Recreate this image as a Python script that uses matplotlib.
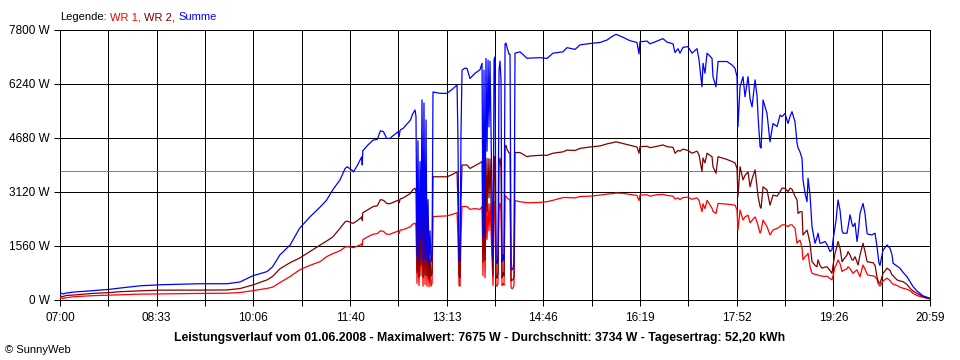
import matplotlib
matplotlib.use("Agg")
import matplotlib.pyplot as plt
import numpy as np

plt.rcParams['font.family'] = ['Liberation Sans', 'DejaVu Sans']

# minutes after 07:00
time_min = [
    0, 2.9, 5.8, 13.5, 31.8, 48.2, 57.9, 77.2, 96.4, 135.0,
    161.0, 173.5, 186.0, 199.6, 205.0, 212.0, 222.0, 231.0, 241.0, 251.0,
    257.0, 263.0, 270.0, 275.0, 277.0, 282.0, 283.0, 287.0, 291.0, 291.5,
    292.0, 297.0, 302.0, 306.0, 309.0, 312.0, 315.0, 318.0, 326.0, 327.0,
    328.0, 331.0, 338.0, 340.0, 342.4, 343.3, 344.3, 345.2, 346.2, 347.2,
    348.1, 349.1, 350.1, 351.0, 352.0, 353.0, 353.9, 354.9, 355.9, 356.8,
    357.8, 358.8, 359.7, 366.5, 373.2, 378.0, 382.9, 383.8, 384.8, 385.8,
    386.7, 387.7, 390.6, 392.5, 395.4, 400.2, 405.0, 407.0, 407.9, 408.9,
    409.9, 410.8, 411.8, 412.8, 413.7, 414.7, 416.6, 417.6, 418.6, 419.5,
    420.5, 421.5, 422.4, 423.4, 424.3, 425.3, 426.3, 427.2, 428.2, 429.2,
    430.1, 431.1, 433.0, 434.0, 435.0, 435.9, 436.9, 437.8, 438.8, 443.6,
    450.4, 453.3, 462.9, 469.7, 475.4, 485.1, 488.9, 496.7, 501.5, 511.1,
    520.8, 527.5, 532.3, 536.2, 542.9, 549.7, 556.4, 558.4, 559.3, 566.1,
    569.0, 575.7, 581.5, 585.4, 591.2, 593.1, 596.0, 597.9, 600.8, 605.6,
    609.5, 614.3, 616.2, 619.1, 620.1, 622.0, 624.0, 628.8, 629.7, 632.6,
    634.6, 643.2, 648.1, 651.0, 652.9, 653.8, 655.8, 658.7, 660.6, 663.5,
    665.5, 667.4, 670.3, 672.2, 673.2, 675.1, 676.1, 678.0, 681.8, 684.7,
    687.6, 691.5, 694.4, 696.3, 699.2, 702.1, 704.0, 705.9, 708.8, 710.8,
    711.7, 713.6, 715.6, 716.5, 718.5, 720.4, 721.4, 723.3, 725.2, 728.1,
    730.0, 731.0, 732.9, 734.9, 737.8, 739.7, 742.6, 744.5, 745.5, 747.4,
    748.4, 750.3, 752.2, 754.2, 755.1, 759.0, 759.9, 761.9, 763.8, 764.8,
    766.7, 768.6, 769.6, 771.5, 774.4, 776.3, 778.3, 779.2, 783.1, 784.0,
    786.0, 787.9, 788.9, 789.8, 790.8, 793.7, 797.6, 800.5, 802.4, 803.4,
    807.2, 810.1, 813.0, 816.8, 819.7, 822.6, 826.5, 829.4, 832.3, 836.1,
    839.0,
]

summe_w = [
    220, 170, 200, 230, 270, 310, 345, 410, 440, 470,
    470, 520, 700, 820, 960, 1300, 1590, 2070, 2400, 2690,
    2880, 3180, 3470, 3800, 3850, 3740, 3700, 3900, 4140, 3900,
    4310, 4480, 4620, 4640, 4890, 4860, 4670, 4670, 4860, 4720,
    4910, 4960, 5200, 5370, 5490, 5300, 1300, 4600, 1100, 4000,
    1700, 5780, 1100, 5690, 1200, 5200, 1150, 2900, 1000, 2000,
    1100, 1300, 6010, 5970, 5970, 6080, 6210, 4620, 1150, 1100,
    4800, 6640, 6700, 6690, 6400, 6550, 6650, 6840, 1830, 6640,
    1800, 6980, 4300, 6930, 5000, 6900, 2900, 1150, 6950, 7020,
    1100, 1050, 1300, 6640, 6900, 6360, 1100, 1300, 1150, 7400,
    7420, 7300, 7100, 7100, 900, 870, 920, 1100, 7130, 7170,
    6980, 6990, 7000, 6980, 7130, 7170, 7290, 7240, 7370, 7410,
    7440, 7510, 7610, 7675, 7590, 7490, 7440, 7110, 7460, 7480,
    7400, 7480, 7550, 7450, 7400, 7150, 7260, 7130, 7300, 7320,
    7130, 7260, 6950, 6160, 6840, 6550, 7130, 6980, 6450, 6160,
    6890, 6890, 6790, 6690, 6450, 5010, 6160, 6450, 5870, 6450,
    5800, 5580, 6360, 5900, 5300, 4430, 4390, 5780, 5390, 4570,
    5100, 5010, 5340, 5300, 5390, 5100, 5300, 5440, 5150, 4530,
    4400, 4280, 4090, 3470, 3080, 2840, 3520, 3030, 2120, 1640,
    1800, 1930, 1640, 1650, 1690, 1600, 1400, 1450, 1730, 2100,
    2310, 2890, 2600, 2000, 1930, 1930, 2100, 2460, 2200, 2120,
    2220, 1690, 1900, 2500, 2790, 2500, 1930, 1900, 1880, 1900,
    1930, 1540, 1300, 1060, 1000, 1440, 1590, 1490, 1300, 1060,
    980, 915, 800, 673, 530, 390, 260, 190, 120, 80,
    50,
]

wr2_w = [
    115, 95, 130, 145, 190, 215, 240, 265, 285, 285,
    290, 330, 435, 580, 680, 900, 1080, 1210, 1400, 1590,
    1700, 1820, 2070, 2260, 2280, 2220, 2220, 2300, 2400, 2300,
    2520, 2610, 2700, 2720, 2900, 2880, 2790, 2780, 2880, 2800,
    2920, 2950, 3080, 3180, 3230, 3150, 800, 2700, 650, 2400,
    1000, 3400, 650, 3350, 720, 3050, 700, 1700, 600, 1200,
    680, 780, 3560, 3560, 3560, 3620, 3700, 2750, 700, 650,
    2900, 3900, 3900, 3900, 3800, 3880, 3960, 4000, 1100, 3950,
    1150, 4100, 2550, 4090, 2950, 4070, 1700, 700, 4100, 4150,
    650, 630, 800, 3950, 4100, 3800, 650, 780, 700, 4400,
    4470, 4350, 4250, 4240, 550, 580, 580, 680, 4260, 4260,
    4140, 4160, 4180, 4180, 4240, 4280, 4330, 4320, 4380, 4420,
    4450, 4510, 4540, 4570, 4520, 4470, 4420, 4240, 4430, 4440,
    4400, 4440, 4480, 4430, 4410, 4240, 4320, 4300, 4360, 4320,
    4240, 4300, 4200, 3710, 4100, 3960, 4240, 4140, 3850, 3660,
    4140, 4060, 4000, 3960, 3800, 2990, 3850, 3470, 3600, 3700,
    3270, 3500, 3760, 3270, 3000, 2700, 2650, 3270, 3180, 2740,
    3030, 3000, 3130, 3230, 3230, 3130, 3230, 3200, 3000, 2890,
    2500, 2550, 2550, 1880, 1950, 2020, 1900, 1640, 1110, 1000,
    960, 1160, 1000, 920, 950, 960, 850, 770, 1000, 1350,
    1450, 1690, 1500, 1110, 1150, 1300, 1400, 1300, 1160, 1150,
    1250, 1100, 1010, 1300, 1640, 1400, 1110, 1100, 1080, 1080,
    1000, 670, 550, 500, 480, 770, 920, 850, 720, 700,
    580, 550, 530, 450, 340, 260, 190, 140, 95, 60,
    40,
]

wr1_w = [
    80, 40, 65, 95, 125, 140, 150, 170, 175, 190,
    195, 215, 270, 335, 370, 500, 680, 870, 1000, 1110,
    1250, 1340, 1420, 1530, 1540, 1520, 1510, 1560, 1620, 1560,
    1740, 1830, 1900, 1920, 2000, 1980, 1900, 1900, 1990, 1920,
    2020, 2030, 2120, 2190, 2220, 2150, 480, 1900, 420, 1600,
    700, 2380, 400, 2340, 450, 2150, 400, 1200, 380, 800,
    400, 480, 2410, 2420, 2430, 2470, 2520, 1850, 420, 400,
    1900, 2700, 2700, 2700, 2620, 2640, 2620, 2700, 700, 2700,
    640, 2800, 1750, 2780, 2000, 2780, 1200, 420, 2800, 2850,
    420, 400, 480, 2700, 2800, 2550, 420, 480, 430, 3000,
    3000, 2950, 2900, 2880, 350, 330, 350, 420, 2870, 2840,
    2810, 2810, 2820, 2840, 2880, 2960, 2960, 2950, 2990, 3000,
    3030, 3060, 3070, 3090, 3080, 3050, 3020, 2870, 3030, 3040,
    3000, 3040, 3050, 3020, 3000, 2920, 2950, 2900, 2960, 2970,
    2910, 2950, 2880, 2550, 2780, 2640, 2880, 2650, 2560, 2500,
    2790, 2770, 2750, 2740, 2600, 2020, 2600, 2310, 2400, 2450,
    2230, 2300, 2400, 2250, 2150, 1930, 2000, 2310, 2120, 1880,
    2020, 2070, 2120, 2170, 2170, 2120, 2170, 2170, 2070, 1640,
    1680, 1730, 1500, 1160, 1250, 1300, 1350, 960, 770, 740,
    730, 720, 700, 690, 680, 690, 620, 580, 700, 960,
    1000, 1160, 1050, 820, 850, 900, 960, 900, 820, 770,
    830, 870, 800, 670, 1010, 900, 750, 720, 700, 700,
    670, 600, 480, 430, 400, 550, 630, 560, 480, 460,
    420, 370, 340, 310, 270, 190, 130, 100, 78, 50,
    30,
]

assert len(time_min) == len(summe_w) == len(wr2_w) == len(wr1_w)

x_labels = ['07:00', '08:33', '10:06', '11:40', '13:13', '14:46', '16:19', '17:52', '19:26', '20:59']
y_ticks = [0, 1560, 3120, 4680, 6240, 7800]
average_w = 3734
t_end = 839

fig = plt.figure(figsize=(9.6, 3.6), dpi=100)
ax = fig.add_axes([60/960, 60/360, 870/960, 270/360])

GRID_LW = 0.72
grid_x = np.linspace(0, t_end, 19)
for gx in grid_x:
    ax.axvline(gx, color='black', lw=GRID_LW, zorder=1, antialiased=False)
for gy in y_ticks:
    ax.axhline(gy, color='black', lw=GRID_LW, zorder=1, antialiased=False)
ax.axhline(average_w, color='#808080', lw=GRID_LW, zorder=1.5, antialiased=False)

ax.plot(time_min, wr1_w, color='#ff0000', lw=0.9, zorder=3)
ax.plot(time_min, wr2_w, color='#800000', lw=0.9, zorder=3)
ax.plot(time_min, summe_w, color='#0000ff', lw=0.9, zorder=4)

ax.set_xlim(0, t_end)
ax.set_ylim(0, 7800)
ax.set_xticks(grid_x)
ax.set_xticklabels([x_labels[i // 2] if i % 2 == 0 else '' for i in range(19)])
ax.set_yticks(y_ticks)
ax.set_yticklabels([f'{v} W' for v in y_ticks])
ax.tick_params(axis='both', direction='out', length=4.5, width=GRID_LW, color='black',
               labelsize=8.5, pad=3)
ax.tick_params(axis='x', pad=4)
for s in ax.spines.values():
    s.set_color('black')
    s.set_linewidth(GRID_LW)
    s.set_antialiased(False)

# legend line
t1 = fig.text(60/960, 1 - 20/360, 'Legende:', fontsize=8, color='black', va='baseline', ha='left')
t2 = ax.annotate('WR 1,', xy=(1, 0), xycoords=t1, xytext=(2.5, 0), textcoords='offset points',
                 fontsize=8, color='#ff0000', va='bottom', ha='left', annotation_clip=False)
t3 = ax.annotate('WR 2,', xy=(1, 0), xycoords=t2, xytext=(2.5, 0), textcoords='offset points',
                 fontsize=8, color='#800000', va='bottom', ha='left', annotation_clip=False)
t4 = ax.annotate('Summe', xy=(1, 0), xycoords=t3, xytext=(2.5, 0), textcoords='offset points',
                 fontsize=8, color='#0000ff', va='bottom', ha='left', annotation_clip=False)

fig.text(480/960, 1 - 341/360,
         'Leistungsverlauf vom 01.06.2008 - Maximalwert: 7675 W - Durchschnitt: 3734 W - Tagesertrag: 52,20 kWh',
         fontsize=8.8, fontweight='bold', ha='center', va='baseline')
fig.text(5/960, 1 - 353/360, '\u00a9 SunnyWeb', fontsize=8, ha='left', va='baseline')

fig.savefig('out.png', dpi=100, facecolor='white')
